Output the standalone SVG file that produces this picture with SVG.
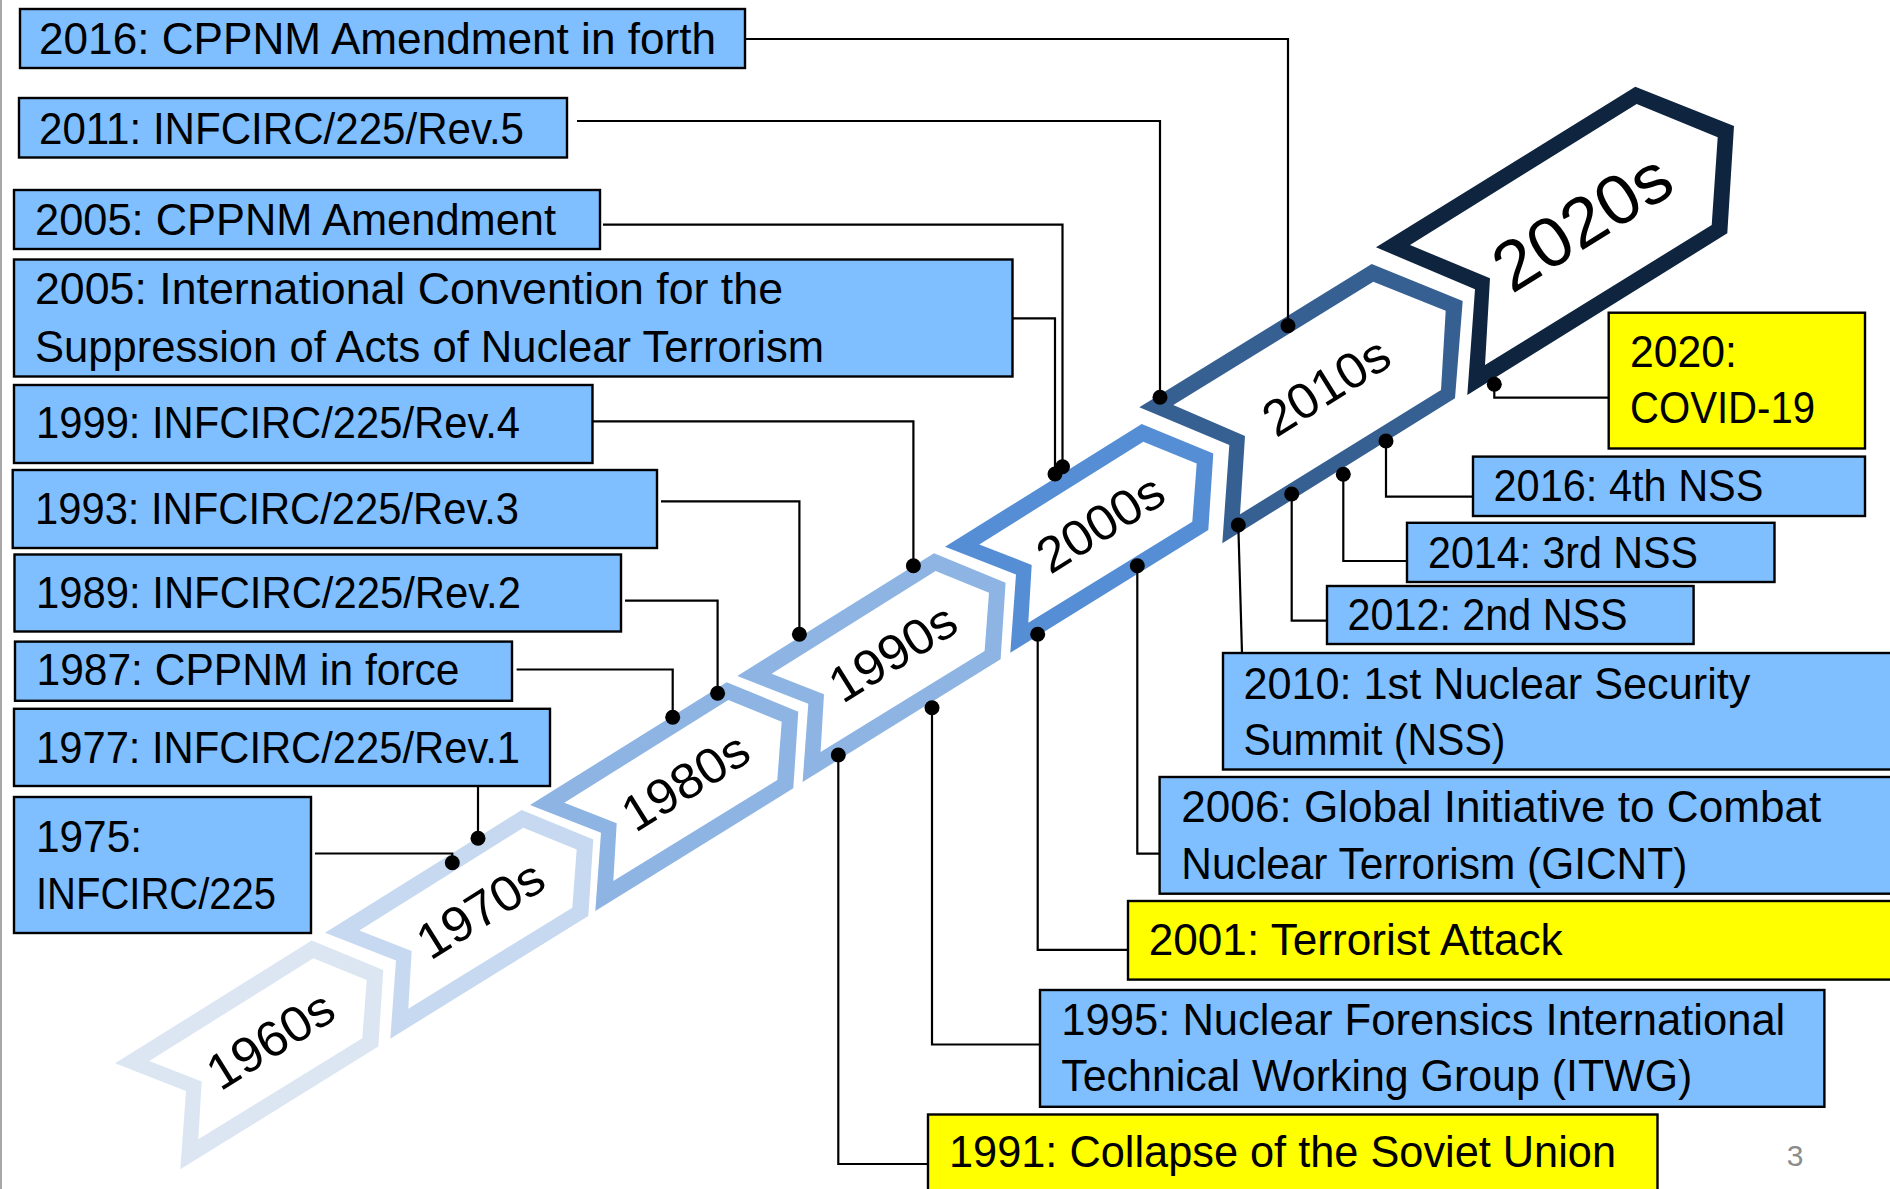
<svg xmlns="http://www.w3.org/2000/svg" xmlns:xlink="http://www.w3.org/1999/xlink" width="1890" height="1189" viewBox="0 0 1890 1189">
<style>
.box{fill:#7FBFFF;stroke:#000;stroke-width:2.4}
.ybox{fill:#FFFF00;stroke:#000;stroke-width:2.4}
.t{font-family:"Liberation Sans",Arial,sans-serif;font-size:44px;fill:#000}
.dec{font-family:"Liberation Sans",Arial,sans-serif;font-size:50px;fill:#000;text-anchor:middle}
.con{fill:none;stroke:#000;stroke-width:2.2}
.dot{fill:#000}
.chev{fill-rule:evenodd}
</style>
<defs>
<path id="chevS" class="chev" d="M0,0 L196.7,-122.7 L268.3,-93.3 L263.3,-16.7 L65.3,106 L71,27.7 Z M34.3,-2.3 L86.7,18.3 L83.3,76 L247.3,-25 L251.7,-83.3 L198.3,-105 Z"/>
</defs>
<rect x="0" y="0" width="1890" height="1189" fill="#fff"/>
<line x1="1" y1="0" x2="1" y2="1189" stroke="#8a8a8a" stroke-width="1.5"/>

<g id="timeline">
<g id="d1960" transform="translate(115,1063.3)">
<use xlink:href="#chevS" href="#chevS" fill="#DCE6F2"/>
<text class="dec" transform="translate(155,-24) rotate(-32)" y="18" textLength="140" lengthAdjust="spacingAndGlyphs">1960s</text>
</g>
<g id="d1970" transform="translate(325,932.7)">
<use xlink:href="#chevS" href="#chevS" fill="#C6D9F0"/>
<text class="dec" transform="translate(155,-24) rotate(-32)" y="18" textLength="140" lengthAdjust="spacingAndGlyphs">1970s</text>
</g>
<g id="d1980" transform="translate(530,805)">
<use xlink:href="#chevS" href="#chevS" fill="#8EB4E3"/>
<text class="dec" transform="translate(155,-24) rotate(-32)" y="18" textLength="140" lengthAdjust="spacingAndGlyphs">1980s</text>
</g>
<g id="d1990" transform="translate(737.3,676)">
<use xlink:href="#chevS" href="#chevS" fill="#8EB4E3"/>
<text class="dec" transform="translate(155,-24) rotate(-32)" y="18" textLength="140" lengthAdjust="spacingAndGlyphs">1990s</text>
</g>
<g id="d2000" transform="translate(945,546.7)">
<use xlink:href="#chevS" href="#chevS" fill="#558ED5"/>
<text class="dec" transform="translate(155,-24) rotate(-32)" y="18" textLength="140" lengthAdjust="spacingAndGlyphs">2000s</text>
</g>
<g id="d2010" transform="translate(1139.3,407.3)">
<path class="chev" fill="#376092" d="M0,0 L232.4,-143.3 L323.4,-106.3 L315.7,-9 L83,136 L90,37.7 Z M34,-2.3 L105.7,28.7 L100.7,107 L301.7,-17.3 L306.4,-96.6 L234,-125.6 Z"/>
<text class="dec" transform="translate(186.4,-21.5) rotate(-32)" y="18" textLength="140" lengthAdjust="spacingAndGlyphs">2010s</text>
</g>
<g id="d2020" transform="translate(1376,247.3)">
<path class="chev" fill="#0F243E" d="M0,0 L259.3,-160.6 L358,-121.3 L351.3,-14 L91.3,147.7 L99,42 Z M34,-2.3 L114,31 L109,117.7 L335.7,-22.3 L341.7,-110 L260.7,-143.3 Z"/>
<text class="dec" style="font-size:70px" transform="translate(205.7,-26) rotate(-32)" y="25" textLength="196" lengthAdjust="spacingAndGlyphs">2020s</text>
</g>
</g>

<g id="n2016c"><rect class="box" x="20" y="9" width="725" height="59"/><text class="t" x="39" y="53.6" textLength="677" lengthAdjust="spacingAndGlyphs">2016: CPPNM Amendment in forth</text></g>
<g id="n2011"><rect class="box" x="19" y="98" width="548" height="59.5"/><text class="t" x="39" y="143.5" textLength="485" lengthAdjust="spacingAndGlyphs">2011: INFCIRC/225/Rev.5</text></g>
<g id="n2005c"><rect class="box" x="14" y="190" width="586" height="59"/><text class="t" x="35" y="235.4" textLength="521" lengthAdjust="spacingAndGlyphs">2005: CPPNM Amendment</text></g>
<g id="n2005i"><rect class="box" x="14" y="259.5" width="998.5" height="117"/><text class="t" x="35" y="304.3" textLength="748" lengthAdjust="spacingAndGlyphs">2005: International Convention for the</text><text class="t" x="35" y="361.6" textLength="789" lengthAdjust="spacingAndGlyphs">Suppression of Acts of Nuclear Terrorism</text></g>
<g id="n1999"><rect class="box" x="14" y="385" width="578.5" height="78"/><text class="t" x="36" y="438.2" textLength="484" lengthAdjust="spacingAndGlyphs">1999: INFCIRC/225/Rev.4</text></g>
<g id="n1993"><rect class="box" x="12.7" y="470" width="644.3" height="78"/><text class="t" x="35" y="524.3" textLength="484" lengthAdjust="spacingAndGlyphs">1993: INFCIRC/225/Rev.3</text></g>
<g id="n1989"><rect class="box" x="14.5" y="554.5" width="606.5" height="77"/><text class="t" x="36" y="607.5" textLength="485" lengthAdjust="spacingAndGlyphs">1989: INFCIRC/225/Rev.2</text></g>
<g id="n1987"><rect class="box" x="15" y="641.6" width="497" height="59.2"/><text class="t" x="36.5" y="684.7" textLength="423" lengthAdjust="spacingAndGlyphs">1987: CPPNM in force</text></g>
<g id="n1977"><rect class="box" x="14" y="708.8" width="536" height="77.2"/><text class="t" x="36" y="762.6" textLength="484" lengthAdjust="spacingAndGlyphs">1977: INFCIRC/225/Rev.1</text></g>
<g id="n1975"><rect class="box" x="14" y="797" width="297" height="136"/><text class="t" x="36" y="851.6" textLength="106" lengthAdjust="spacingAndGlyphs">1975:</text><text class="t" x="36" y="909" textLength="240" lengthAdjust="spacingAndGlyphs">INFCIRC/225</text></g>

<g id="n2020"><rect class="ybox" x="1608.7" y="312.7" width="256.3" height="135.8"/><text class="t" x="1630" y="366.7" textLength="107" lengthAdjust="spacingAndGlyphs">2020:</text><text class="t" x="1630" y="423.3" textLength="185" lengthAdjust="spacingAndGlyphs">COVID-19</text></g>
<g id="n2016n"><rect class="box" x="1473" y="456.6" width="392" height="59.4"/><text class="t" x="1493.5" y="501.3" textLength="270" lengthAdjust="spacingAndGlyphs">2016: 4th NSS</text></g>
<g id="n2014"><rect class="box" x="1407" y="522.8" width="367.5" height="59.2"/><text class="t" x="1428" y="568.3" textLength="270" lengthAdjust="spacingAndGlyphs">2014: 3rd NSS</text></g>
<g id="n2012"><rect class="box" x="1327" y="586" width="366.6" height="58"/><text class="t" x="1347.6" y="630" textLength="280" lengthAdjust="spacingAndGlyphs">2012: 2nd NSS</text></g>
<g id="n2010"><rect class="box" x="1223" y="653" width="700" height="116.5"/><text class="t" x="1243.4" y="698.9" textLength="507" lengthAdjust="spacingAndGlyphs">2010: 1st Nuclear Security</text><text class="t" x="1243.4" y="755" textLength="262" lengthAdjust="spacingAndGlyphs">Summit (NSS)</text></g>
<g id="n2006"><rect class="box" x="1159.6" y="777" width="800" height="116.7"/><text class="t" x="1181.3" y="822.2" textLength="640" lengthAdjust="spacingAndGlyphs">2006: Global Initiative to Combat</text><text class="t" x="1181.3" y="879" textLength="506" lengthAdjust="spacingAndGlyphs">Nuclear Terrorism (GICNT)</text></g>
<g id="n2001"><rect class="ybox" x="1128" y="901" width="800" height="78.6"/><text class="t" x="1148.7" y="954.8" textLength="414" lengthAdjust="spacingAndGlyphs">2001: Terrorist Attack</text></g>
<g id="n1995"><rect class="box" x="1040" y="990" width="784.4" height="116.8"/><text class="t" x="1061.3" y="1035" textLength="724" lengthAdjust="spacingAndGlyphs">1995: Nuclear Forensics International</text><text class="t" x="1061.3" y="1091" textLength="631" lengthAdjust="spacingAndGlyphs">Technical Working Group (ITWG)</text></g>
<g id="n1991"><rect class="ybox" x="928" y="1114.5" width="729.5" height="100"/><text class="t" x="949" y="1166.8" textLength="667" lengthAdjust="spacingAndGlyphs">1991: Collapse of the Soviet Union</text></g>

<g id="connectors">
<path class="con" d="M745,39 H1288 V325.7"/>
<path class="con" d="M577,121 H1160 V397.3"/>
<path class="con" d="M603,224.6 H1062.5 V466.7"/>
<path class="con" d="M1012.5,318.4 H1055 V474"/>
<path class="con" d="M592.5,421.3 H913.4 V565.7"/>
<path class="con" d="M661,501.3 H799.4 V634.3"/>
<path class="con" d="M625,600.7 H717.6 V693.3"/>
<path class="con" d="M516.6,669.5 H672.7 V717.3"/>
<path class="con" d="M478,786 V838.3"/>
<path class="con" d="M315,853.5 H452.3 V862.7"/>
<path class="con" d="M1494.3,384.3 V397.7 H1608.7"/>
<path class="con" d="M1386,441 V496.7 H1473"/>
<path class="con" d="M1343.3,474.3 V561 H1407"/>
<path class="con" d="M1291.7,494 V620.6 H1327"/>
<path class="con" d="M1238.3,525 L1242,653"/>
<path class="con" d="M1137.3,565.7 V853.6 H1159.6"/>
<path class="con" d="M1037.7,634.3 V949.8 H1128"/>
<path class="con" d="M932,707.7 V1044.5 H1040"/>
<path class="con" d="M838.3,755 V1164 H928"/>
<circle class="dot" cx="1288" cy="325.7" r="7.5"/>
<circle class="dot" cx="1160" cy="397.3" r="7.5"/>
<circle class="dot" cx="1062.5" cy="466.7" r="7.5"/>
<circle class="dot" cx="1055" cy="474" r="7.5"/>
<circle class="dot" cx="913.4" cy="565.7" r="7.5"/>
<circle class="dot" cx="799.4" cy="634.3" r="7.5"/>
<circle class="dot" cx="717.6" cy="693.3" r="7.5"/>
<circle class="dot" cx="672.7" cy="717.3" r="7.5"/>
<circle class="dot" cx="478" cy="838.3" r="7.5"/>
<circle class="dot" cx="452.3" cy="862.7" r="7.5"/>
<circle class="dot" cx="1494.3" cy="384.3" r="7.5"/>
<circle class="dot" cx="1386" cy="441" r="7.5"/>
<circle class="dot" cx="1343.3" cy="474.3" r="7.5"/>
<circle class="dot" cx="1291.7" cy="494" r="7.5"/>
<circle class="dot" cx="1238.3" cy="525" r="7.5"/>
<circle class="dot" cx="1137.3" cy="565.7" r="7.5"/>
<circle class="dot" cx="1037.7" cy="634.3" r="7.5"/>
<circle class="dot" cx="932" cy="707.7" r="7.5"/>
<circle class="dot" cx="838.3" cy="755" r="7.5"/>
</g>

<text x="1795" y="1166" font-family="Liberation Sans, Arial, sans-serif" font-size="30" fill="#8c8c8c" text-anchor="middle">3</text>
</svg>
